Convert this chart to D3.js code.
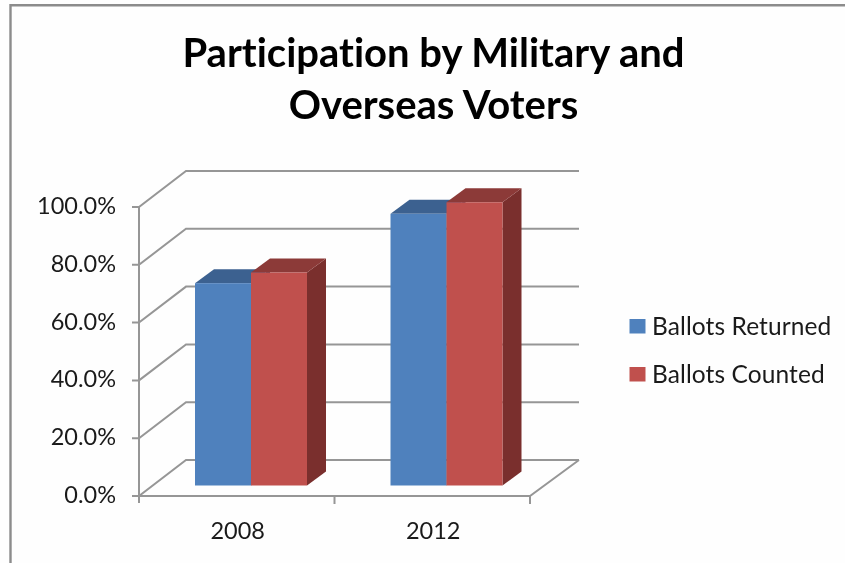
<!DOCTYPE html>
<html><head><meta charset="utf-8">
<script src="https://cdn.jsdelivr.net/npm/d3@7/dist/d3.min.js"></script>
<style>html,body{margin:0;padding:0;background:#fefefe}svg{display:block;filter:blur(0.35px)}text{font-family:Lato,"Open Sans",sans-serif;fill:#1a1a1a;font-variant-ligatures:none}</style>
</head><body><svg id="c" width="845" height="563"></svg>
<script>
const categories = ["2008","2012"];
const seriesNames = ["Ballots Returned","Ballots Counted"];
const returned = [0.70,0.94];
const counted = [0.737,0.98];
const tickValues = [0,0.2,0.4,0.6,0.8,1];
const titleLines = ["Participation by Military and","Overseas Voters"];

const frontColors = ["#4f81bd","#c0504d"], topColors = ["#3c6190","#8c3a38"], sideColors = ["#2f4d72","#7a2f2d"];
const svg = d3.select("#c");
const grid = "#969696";
const x0 = 139, x1 = 530, y0 = 496, y1 = 207, wdx = 47, wdy = -36;
const y = d3.scaleLinear().domain([0,1]).range([y0,y1]);
const x = d3.scaleBand().domain(categories).range([x0,x1]);
const sub = d3.scaleBand().domain(seriesNames).range([0,112]);
const barInset = 56, floorDy = -10.5, depthX = 19, depthY = -14;
const line = d3.line();

// frame
svg.append("path").attr("d","M10.5,563V5.2H845").attr("fill","none").attr("stroke","#8c8c8c").attr("stroke-width",2.4);

// grid
const g = svg.append("g").attr("fill","none").attr("stroke",grid).attr("stroke-width",2);
tickValues.forEach(t=>{
  g.append("path").attr("d",line([[x0-7,y(t)],[x0,y(t)],[x0+wdx,y(t)+wdy],[x1+wdx+2,y(t)+wdy]]));
});
g.append("path").attr("d",line([[x0,y(1)],[x0,y0+7]]));
g.append("path").attr("d",line([[x0,y0],[x1,y0],[x1+wdx+2,y0+wdy]]));
categories.forEach(c=>g.append("path").attr("d",line([[x(c)+x.bandwidth(),y0],[x(c)+x.bandwidth(),y0+8]])));

// bars
const base = y0 + floorDy;
[returned,counted].forEach((vals,si)=>{
  const name = seriesNames[si];
  categories.forEach((c,ci)=>{
    const l = x(c)+barInset+sub(name), r = l+sub.bandwidth();
    const t = base-(y0-y(vals[ci]));
    const b = svg.append("g");
    b.append("path").attr("fill",sideColors[si]).attr("d",line([[r,t],[r+depthX,t+depthY],[r+depthX,base+depthY],[r,base]])+"Z");
    b.append("path").attr("fill",topColors[si]).attr("d",line([[l,t],[l+depthX,t+depthY],[r+depthX,t+depthY],[r,t]])+"Z");
    b.append("rect").attr("fill",frontColors[si]).attr("x",l).attr("y",t).attr("width",r-l).attr("height",base-t);
  });
});

// y labels
const pct = d3.format(".1%");
tickValues.forEach(t=>svg.append("text").attr("x",116).attr("y",y(t)+7).attr("text-anchor","end").attr("font-size",23.5).text(pct(t)));
// x labels
categories.forEach(c=>svg.append("text").attr("x",x(c)+x.bandwidth()/2+1).attr("y",539).attr("text-anchor","middle").attr("font-size",23.5).text(c));
// legend
seriesNames.forEach((n,i)=>{
  const ly = 319+48*i;
  svg.append("rect").attr("x",629.5).attr("y",ly).attr("width",16).attr("height",14.5).attr("fill",frontColors[i]);
  svg.append("text").attr("x",652).attr("y",ly+16).attr("font-size",24.5).attr("letter-spacing",0.1).text(n);
});
// title
titleLines.forEach((t,i)=>svg.append("text").attr("x",433.5).attr("y",67+52*i).attr("text-anchor","middle").attr("font-size",40).attr("font-weight",700).style("fill","#000").text(t));
</script></body></html>
